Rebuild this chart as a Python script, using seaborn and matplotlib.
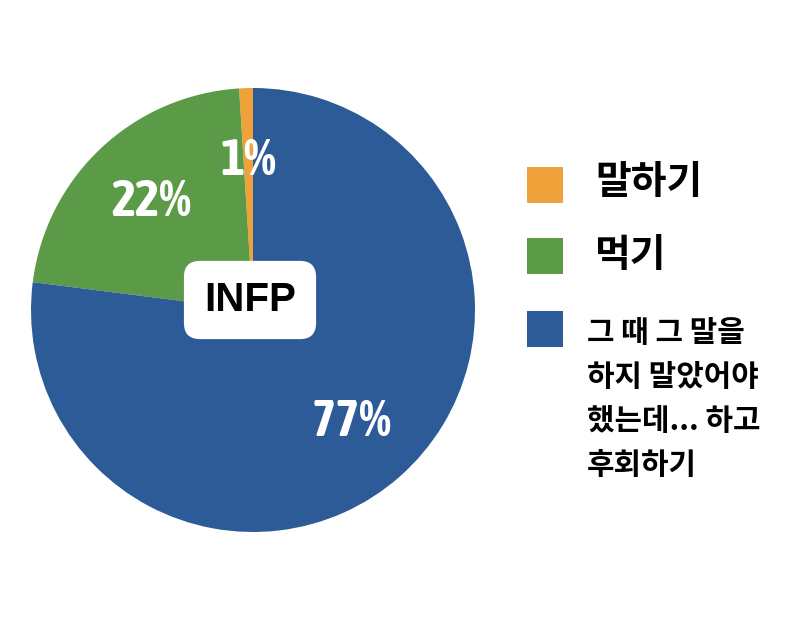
import matplotlib
matplotlib.use("Agg")
import matplotlib.pyplot as plt
import seaborn as sns
from matplotlib.patches import Rectangle
from matplotlib import font_manager as fm

categories = ["말하기", "먹기", "그 때 그 말을\n하지 말았어야\n했는데... 하고\n후회하기"]
values = [1, 22, 77]
colors = ["#EFA23A", "#5B9A46", "#2C5B98"]
center_label = "INFP"

sns.set_theme(style="white")
plt.rcParams["font.family"] = ["Noto Sans CJK KR", "DejaVu Sans"]

# pick a condensed bold face if one is installed
cond_family = None
for f in fm.fontManager.ttflist:
    if ("Narrow" in f.name or "Condensed" in f.name) and f.weight in ("bold", 700):
        cond_family = f.name
        break
pct_props = dict(color="white", fontsize=37, fontweight="bold")
if cond_family:
    pct_props["family"] = [cond_family, "DejaVu Sans"]
else:
    cands = [f for f in fm.fontManager.ttflist
             if f.name == "DejaVu Sans" and f.stretch in ("condensed", 300, "semi-condensed")]
    pct_props["family"] = ["DejaVu Sans"]
    if cands:
        pct_props["fontstretch"] = "condensed"

W, H = 800, 628
fig = plt.figure(figsize=(8.0, 6.28), dpi=100)
fig.patch.set_facecolor("white")

cx, cy, r = 253, 310, 222
ax = fig.add_axes([(cx - r) / W, (H - cy - r) / H, 2 * r / W, 2 * r / H])
wedges, texts, autotexts = ax.pie(
    values, colors=colors, startangle=90, counterclock=True,
    autopct=lambda p: f"{p:.0f}%", pctdistance=0.67,
    wedgeprops=dict(linewidth=0),
    textprops=pct_props,
)
ax.set_aspect("equal")
ax.set_xlim(-1, 1)
ax.set_ylim(-1, 1)

ax.text(-3 / r, (cy - 300) / r, center_label, ha="center", va="center",
        fontsize=29, fontweight="bold", color="black",
        family=["Liberation Sans", "DejaVu Sans"],
        bbox=dict(boxstyle="round,pad=0.5,rounding_size=0.4",
                  facecolor="white", edgecolor="none"))

sq = 36
items = [
    (185, 595, 182, 28),
    (256, 595, 255, 28),
    (329, 587, 399, 21.5),
]
for (sq_cy, tx, ty, fs), lab, col in zip(items, categories, colors):
    fig.patches.append(Rectangle((527 / W, (H - sq_cy - sq / 2) / H), sq / W, sq / H,
                                 transform=fig.transFigure, facecolor=col,
                                 edgecolor="none"))
    fig.text(tx / W, (H - ty) / H, lab, ha="left", va="center",
             fontsize=fs, fontweight="bold", color="black",
             linespacing=1.58)

fig.savefig("out.png", dpi=100, facecolor="white")
